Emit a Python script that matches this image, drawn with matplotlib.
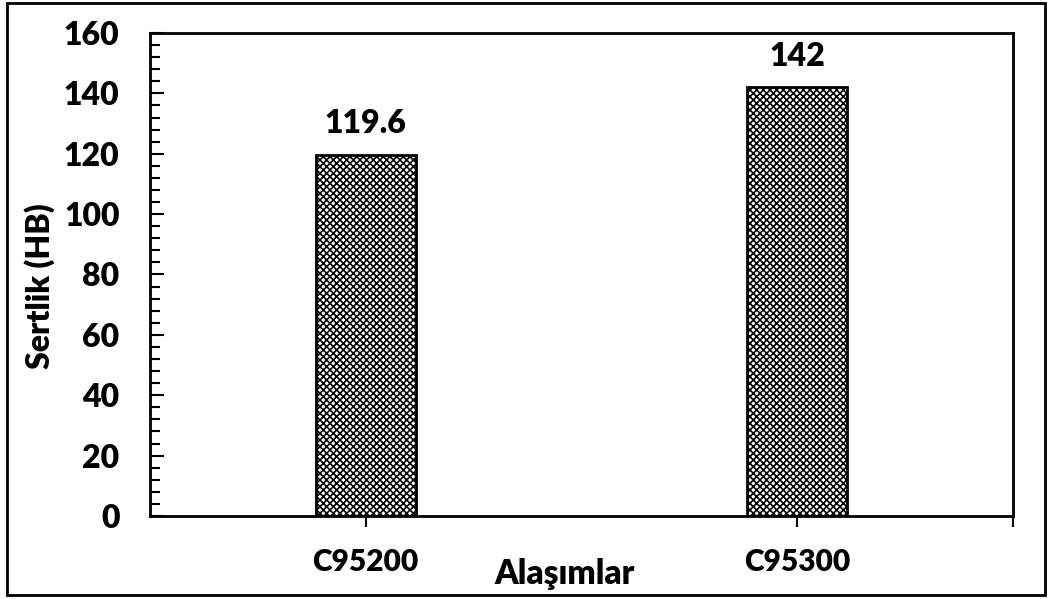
import matplotlib
matplotlib.use('Agg')
import matplotlib.pyplot as plt
from matplotlib.patches import Rectangle
from matplotlib.ticker import MultipleLocator

alloys = ['C95200', 'C95300']
hardness = [119.6, 142]
value_labels = ['119.6', '142']

plt.rcParams['font.family'] = ['Lato', 'DejaVu Sans']
plt.rcParams['font.weight'] = 'heavy'
plt.rcParams['hatch.linewidth'] = 1.2

fig = plt.figure(figsize=(10.51, 5.99), dpi=100)
ax = fig.add_axes([0.1427, 0.1386, 0.8211, 0.8063])

x = list(range(len(alloys)))
bars = ax.bar(x, hardness, width=0.232, color='white', edgecolor='black',
              linewidth=2, hatch='xxxxx', zorder=2)

for b, lab in zip(bars, value_labels):
    ax.annotate(lab, (b.get_x() + b.get_width() / 2, b.get_height()),
                xytext=(0, 12), textcoords='offset points',
                ha='center', va='bottom', fontsize=23, fontweight='heavy')

ax.set_xlim(-0.5, 1.5)
ax.set_ylim(0, 160)
ax.yaxis.set_major_locator(MultipleLocator(20))
ax.yaxis.set_minor_locator(MultipleLocator(4))
ax.set_xticks(x)
ax.set_xticklabels(alloys)
ax.set_xticks([1.5], minor=True)

ax.tick_params(axis='y', which='major', direction='in', length=10, width=1.5,
               labelsize=23, pad=22)
ax.tick_params(axis='y', which='minor', direction='in', length=7, width=1.5)
ax.tick_params(axis='x', which='both', direction='out', length=8, width=1.5,
               labelsize=21.5, pad=15)
for lab in ax.get_xticklabels() + ax.get_yticklabels():
    lab.set_fontweight('heavy')

for s in ax.spines.values():
    s.set_linewidth(2)

fig.text(565 / 1051, 1 - 574 / 599, 'Alaşımlar', ha='center', va='center',
         fontsize=24, fontweight='heavy')
fig.text(40 / 1051, 1 - 286 / 599, 'Sertlik (HB)', ha='center', va='center',
         rotation=90, fontsize=23, fontweight='heavy')

fig.patches.append(Rectangle((7 / 1051, 1 - 595 / 599), 1038 / 1051, 592 / 599,
                             transform=fig.transFigure, fill=False,
                             edgecolor='black', linewidth=2))

fig.savefig('out.png', dpi=100)
